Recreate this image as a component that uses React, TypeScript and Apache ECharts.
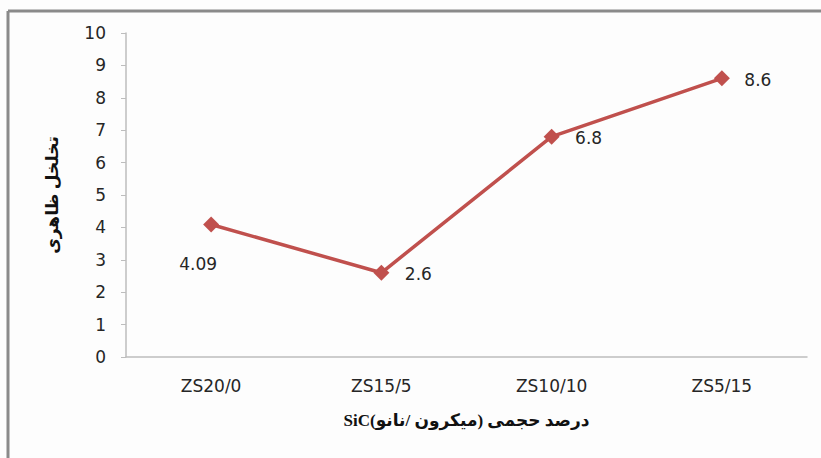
import React, { useEffect, useRef } from "react";
import * as echarts from "echarts";

const categories = ["ZS20/0", "ZS15/5", "ZS10/10", "ZS5/15"];
const values = [4.09, 2.6, 6.8, 8.6];
const labelOffsets: [number, number][] = [[-13, 40], [37, 1], [37, 1], [36, 2]];
const yTicks = [0, 1, 2, 3, 4, 5, 6, 7, 8, 9, 10];
const yAxisTitle = "تخلخل ظاهری";
const xAxisTitle = "درصد حجمی (میکرون /نانو)SiC";

export default function App() {
  const ref = useRef<HTMLDivElement>(null);
  useEffect(() => {
    document.body.style.margin = "0";
    const chart = echarts.init(ref.current!, null, { renderer: "svg" });
    const tickFont = "DejaVu Sans, sans-serif";
    chart.setOption({
      animation: false,
      backgroundColor: "#fdfdfd",
      grid: { left: 126, right: 14, top: 33, bottom: 101 },
      graphic: [
        { type: "line", shape: { x1: 8, y1: 11, x2: 821, y2: 11 }, style: { stroke: "#8a8a8a", lineWidth: 3 } },
        { type: "line", shape: { x1: 8, y1: 11, x2: 8, y2: 458 }, style: { stroke: "#8a8a8a", lineWidth: 3 } },
      ],
      xAxis: {
        type: "category",
        data: categories,
        boundaryGap: true,
        axisLine: { show: true, lineStyle: { color: "#bdbdbd", width: 1.5 } },
        axisTick: { show: false },
        axisLabel: { color: "#262626", fontSize: 17, fontFamily: tickFont, margin: 20 },
        name: "\u202B" + xAxisTitle + "\u202C",
        nameLocation: "middle",
        nameGap: 55,
        nameTextStyle: { color: "#111", fontSize: 17, fontWeight: "bold", fontFamily: "Liberation Serif, DejaVu Sans, serif" },
      },
      yAxis: {
        type: "value",
        min: yTicks[0],
        max: yTicks[yTicks.length - 1],
        interval: 1,
        axisLine: { show: true, lineStyle: { color: "#bdbdbd", width: 1.5 } },
        axisTick: { show: true, inside: false, length: 5, lineStyle: { color: "#bdbdbd" } },
        splitLine: { show: false },
        axisLabel: { color: "#262626", fontSize: 17, fontFamily: tickFont, margin: 20 },
        name: yAxisTitle,
        nameLocation: "middle",
        nameRotate: 90,
        nameGap: 65,
        nameTextStyle: { color: "#111", fontSize: 17, fontWeight: "bold", fontFamily: "Liberation Serif, DejaVu Sans, serif" },
      },
      series: [
        {
          type: "line",
          data: values.map((v, i) => ({
            value: v,
            label: { offset: labelOffsets[i] },
          })),
          symbol: "diamond",
          symbolSize: 16,
          lineStyle: { color: "#c0504d", width: 3.5 },
          itemStyle: { color: "#c0504d" },
          label: {
            show: true,
            position: "inside",
            color: "#262626",
            fontSize: 17,
            fontFamily: tickFont,
            formatter: (p: any) => String(p.value),
          },
        },
      ],
    });
    return () => chart.dispose();
  }, []);
  return <div ref={ref} style={{ width: 821, height: 458 }} />;
}
